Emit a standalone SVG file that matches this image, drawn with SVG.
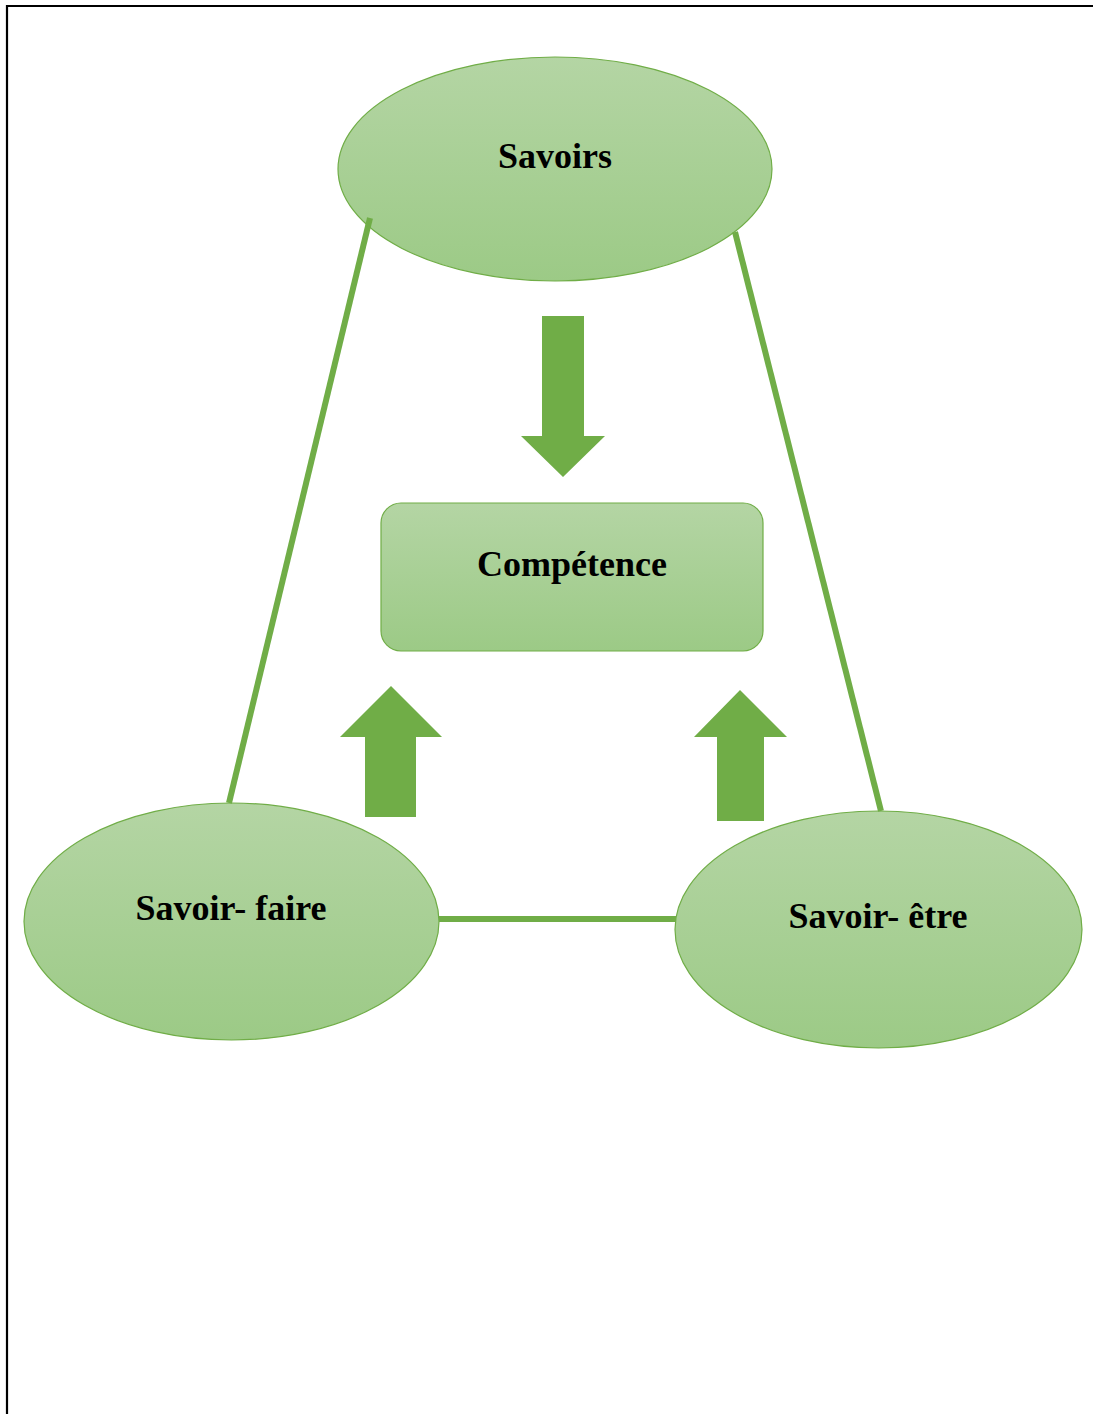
<svg xmlns="http://www.w3.org/2000/svg" width="1093" height="1414" viewBox="0 0 1093 1414">
  <defs>
    <linearGradient id="fillGreen" x1="0" y1="0" x2="0" y2="1">
      <stop offset="0" stop-color="#b4d5a4"/>
      <stop offset="1" stop-color="#9cca86"/>
    </linearGradient>
    <style>
      .shape { fill: url(#fillGreen); stroke: #70ad47; stroke-width: 1.2; }
      .label { font-family: "Liberation Serif", "Times New Roman", serif; font-weight: bold; font-size: 36px; fill: #000; text-anchor: middle; }
      .link { stroke: #70ad47; stroke-width: 6; fill: none; }
      .arrow { fill: #70ad47; }
    </style>
  </defs>

  <rect width="1093" height="1414" fill="#fff"/>
  <!-- page frame -->
  <path d="M7,1414 V6 H1093" fill="none" stroke="#000" stroke-width="2.2"/>

  <g id="savoirs">
    <ellipse class="shape" cx="555" cy="169" rx="217" ry="112"/>
    <text class="label" x="555" y="168">Savoirs</text>
  </g>

  <g id="competence">
    <rect class="shape" x="381" y="503" width="382" height="148" rx="20" ry="20"/>
    <text class="label" x="572" y="576">Compétence</text>
  </g>

  <g id="savoir-faire">
    <ellipse class="shape" cx="231.5" cy="921.5" rx="207.5" ry="118.5"/>
    <text class="label" x="231" y="920">Savoir- faire</text>
  </g>

  <g id="savoir-etre">
    <ellipse class="shape" cx="878.5" cy="929.5" rx="203.5" ry="118.5"/>
    <text class="label" x="878" y="928">Savoir- être</text>
  </g>

  <g id="connectors">
    <line class="link" x1="370" y1="218" x2="229" y2="803"/>
    <line class="link" x1="735" y1="232" x2="881" y2="811"/>
    <line class="link" x1="439" y1="919" x2="676" y2="919"/>
    <!-- block arrows -->
    <polygon class="arrow" points="542,316 584,316 584,436 605,436 563,477 521,436 542,436"/>
    <polygon class="arrow" points="365,817 416,817 416,737 442,737 391,686 340,737 365,737"/>
    <polygon class="arrow" points="717,821 764,821 764,737 787,737 740,690 694,737 717,737"/>
  </g>
</svg>
